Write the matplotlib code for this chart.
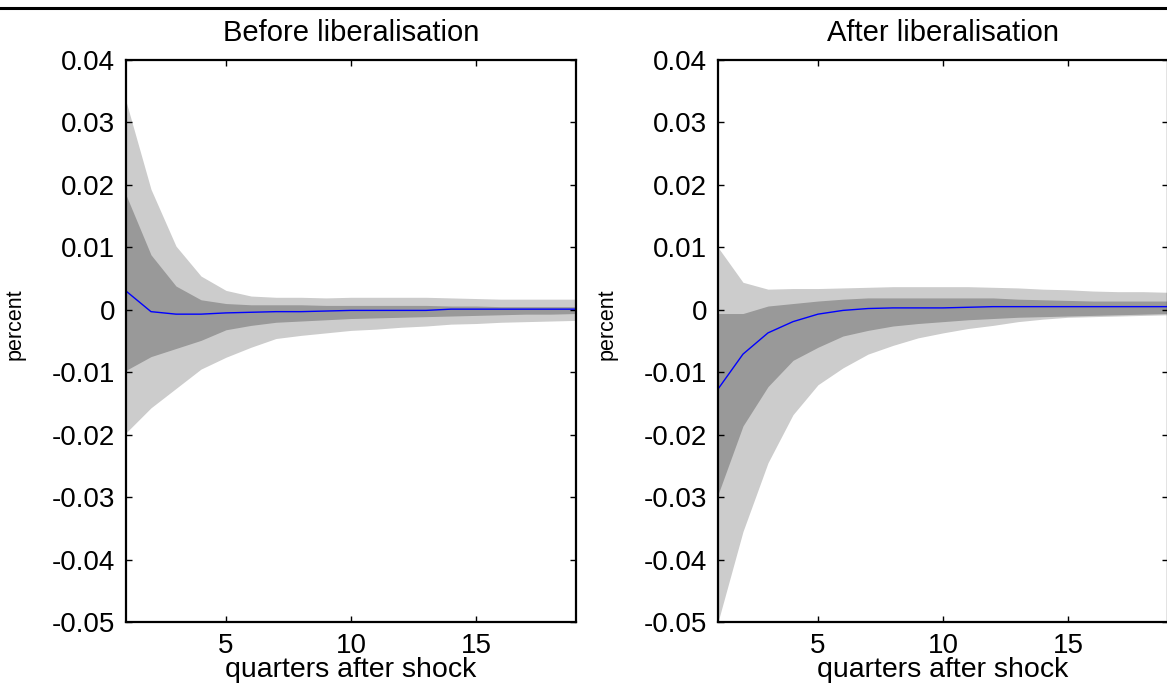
import matplotlib
matplotlib.use("Agg")
import matplotlib.pyplot as plt
from matplotlib.lines import Line2D

plt.rcParams['font.family'] = ['Liberation Sans', 'DejaVu Sans']

quarters = list(range(1, 20))

# impulse responses, median with 68% and 90% bands
before_med = [0.0030, -0.0003, -0.0007, -0.0007, -0.0005, -0.0004, -0.0003, -0.0003, -0.0002, -0.0001,
              -0.0001, -0.0001, -0.0001, 0.0001, 0.0001, 0.0001, 0.0001, 0.0001, 0.0001]
before_hi68 = [0.0184, 0.0088, 0.0038, 0.0016, 0.0010, 0.0008, 0.0008, 0.0008, 0.0007, 0.0007,
               0.0007, 0.0007, 0.0007, 0.0006, 0.0006, 0.0005, 0.0005, 0.0005, 0.0005]
before_lo68 = [-0.0097, -0.0075, -0.0062, -0.0049, -0.0032, -0.0025, -0.0020, -0.0018, -0.0016, -0.0014,
               -0.0013, -0.0012, -0.0011, -0.0010, -0.0009, -0.0008, -0.0007, -0.0007, -0.0006]
before_hi90 = [0.0334, 0.0193, 0.0102, 0.0054, 0.0031, 0.0022, 0.0020, 0.0020, 0.0019, 0.0020,
               0.0020, 0.0020, 0.0020, 0.0019, 0.0018, 0.0017, 0.0017, 0.0017, 0.0017]
before_lo90 = [-0.0197, -0.0157, -0.0126, -0.0095, -0.0076, -0.0060, -0.0046, -0.0041, -0.0037, -0.0033,
               -0.0031, -0.0028, -0.0026, -0.0023, -0.0022, -0.0020, -0.0019, -0.0018, -0.0017]

after_med = [-0.0127, -0.0071, -0.0037, -0.0019, -0.0007, -0.0001, 0.0002, 0.0003, 0.0003, 0.0003,
             0.0004, 0.0005, 0.0005, 0.0005, 0.0005, 0.0005, 0.0005, 0.0005, 0.0005]
after_hi68 = [-0.0006, -0.0006, 0.0006, 0.0010, 0.0014, 0.0017, 0.0019, 0.0019, 0.0019, 0.0019,
              0.0019, 0.0019, 0.0017, 0.0016, 0.0015, 0.0014, 0.0014, 0.0014, 0.0014]
after_lo68 = [-0.0296, -0.0186, -0.0123, -0.0081, -0.0060, -0.0042, -0.0033, -0.0026, -0.0022, -0.0019,
              -0.0016, -0.0014, -0.0012, -0.0011, -0.0010, -0.0009, -0.0008, -0.0007, -0.0006]
after_hi90 = [0.0100, 0.0044, 0.0033, 0.0034, 0.0034, 0.0035, 0.0036, 0.0037, 0.0037, 0.0037,
              0.0037, 0.0036, 0.0035, 0.0033, 0.0032, 0.0030, 0.0029, 0.0029, 0.0028]
after_lo90 = [-0.0500, -0.0355, -0.0245, -0.0168, -0.0120, -0.0093, -0.0071, -0.0057, -0.0045, -0.0037,
              -0.0030, -0.0025, -0.0019, -0.0015, -0.0012, -0.0011, -0.0010, -0.0009, -0.0008]

titles = ['Before liberalisation', 'After liberalisation']
yticks = [-0.05, -0.04, -0.03, -0.02, -0.01, 0, 0.01, 0.02, 0.03, 0.04]
ytick_labels = ['-0.05', '-0.04', '-0.03', '-0.02', '-0.01', '0', '0.01', '0.02', '0.03', '0.04']
xticks = [5, 10, 15]

W, H = 1167, 686
fig = plt.figure(figsize=(W / 100, H / 100), dpi=100)

# rule across the top of the page
fig.add_artist(Line2D([0, 1], [1 - 7.5 / H, 1 - 7.5 / H], color='black', lw=2.2,
                      transform=fig.transFigure))

panels = [
    (126, before_med, before_lo68, before_hi68, before_lo90, before_hi90),
    (718, after_med, after_lo68, after_hi68, after_lo90, after_hi90),
]

for i, (left, med, lo68, hi68, lo90, hi90) in enumerate(panels):
    ax = fig.add_axes([left / W, 64 / H, 450 / W, 562 / H])
    ax.fill_between(quarters, lo90, hi90, color='#cccccc', lw=0)
    ax.fill_between(quarters, lo68, hi68, color='#999999', lw=0)
    ax.plot(quarters, med, color='#0000ff', lw=1.0)
    ax.set_xlim(1, 19)
    ax.set_ylim(-0.05, 0.04)
    ax.set_xticks(xticks)
    ax.set_yticks(yticks)
    ax.set_yticklabels(ytick_labels)
    ax.tick_params(direction='in', top=True, right=True, length=4, width=1,
                   labelsize=20, pad=8)
    for sp in ax.spines.values():
        sp.set_linewidth(1.6)
    ax.set_title(titles[i], fontsize=21, pad=13.5)
    ax.set_xlabel('quarters after shock', fontsize=20.5, labelpad=-1.5)
    ax.set_ylabel('percent', fontsize=15.5)
    ax.yaxis.set_label_coords(-0.224, 0.53)

fig.savefig('out.png', dpi=100)
